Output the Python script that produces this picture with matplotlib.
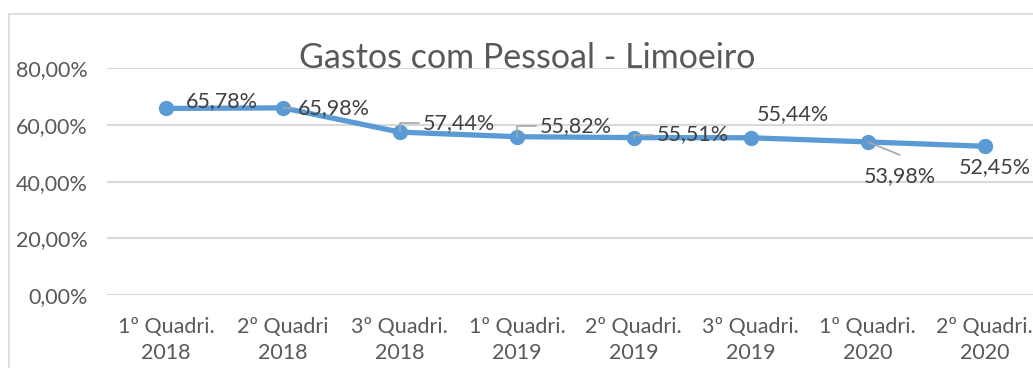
from matplotlib import pyplot as plt
from matplotlib.patches import Rectangle
import matplotlib.ticker as mtick

plt.rcParams['font.family'] = ['Lato', 'DejaVu Sans']

# dados: percentual de gastos com pessoal por quadrimestre
periodos = ['1º Quadri.\n2018', '2º Quadri\n2018', '3º Quadri.\n2018',
            '1º Quadri.\n2019', '2º Quadri.\n2019', '3º Quadri.\n2019',
            '1º Quadri.\n2020', '2º Quadri.\n2020']
gastos = [65.78, 65.98, 57.44, 55.82, 55.51, 55.44, 53.98, 52.45]

# deslocamento dos rótulos (pixels) e se usam linha de chamada
rotulo_offset = [(56, 7), (51, 0), (59, 9), (59, 11), (59, 3), (42, 24), (32, -34), (10, -21)]
rotulo_linha = [None, 'angle', 'angle', 'angle', 'angle', None, 'reta', None]

cinza = '#595959'
azul = '#5B9BD5'

fig = plt.figure(figsize=(10.33, 3.68), dpi=100)
ax = fig.add_axes([0.104, 0.198, 0.906, 0.617])

# moldura da área do gráfico
fig.patches.append(Rectangle((9 / 1033, -0.1), 1.2, 1 - 14.5 / 368 + 0.1,
                             transform=fig.transFigure, fill=False,
                             edgecolor='#d9d9d9', linewidth=1.2))

x = list(range(len(gastos)))
ax.plot(x, gastos, color=azul, linewidth=3.8, marker='o', markersize=10,
        solid_capstyle='round', zorder=3)

for i, v in enumerate(gastos):
    txt = ('%.2f' % v).replace('.', ',') + '%'
    dx, dy = rotulo_offset[i]
    props = None
    if rotulo_linha[i] == 'angle':
        props = dict(arrowstyle='-', color='#a6a6a6', lw=1.2, shrinkA=1, shrinkB=0,
                     relpos=(0, 0.5), connectionstyle='angle,angleA=0,angleB=90,rad=0')
    elif rotulo_linha[i] == 'reta':
        props = dict(arrowstyle='-', color='#a6a6a6', lw=1.2, shrinkA=0, shrinkB=0,
                     relpos=(0.5, 1.55))
    ax.annotate(txt, xy=(i, v), xytext=(dx, dy), textcoords='offset pixels',
                ha='center', va='center', fontsize=15.5, color='#404040',
                arrowprops=props, zorder=4)

ax.set_xlim(-0.5, len(gastos) - 0.5)
ax.set_ylim(0, 80)
ax.set_yticks([0, 20, 40, 60, 80])
ax.yaxis.set_major_formatter(mtick.FuncFormatter(lambda v, p: ('%.2f' % v).replace('.', ',') + '%'))
ax.set_xticks(x)
ax.set_xticklabels(periodos)
ax.tick_params(axis='both', length=0, labelsize=15.5, colors=cinza)
ax.tick_params(axis='x', pad=15.5)
ax.tick_params(axis='y', pad=14)
for lbl in ax.get_xticklabels():
    lbl.set_linespacing(1.4)

ax.grid(axis='y', color='#d9d9d9', linewidth=1.5)
ax.set_axisbelow(True)
for s in ax.spines.values():
    s.set_visible(False)

fig.text(527 / 1033, 1 - 58 / 368, 'Gastos com Pessoal - Limoeiro', ha='center', va='center',
         fontsize=24.5, color=cinza)

plt.savefig('out.png', dpi=100)
